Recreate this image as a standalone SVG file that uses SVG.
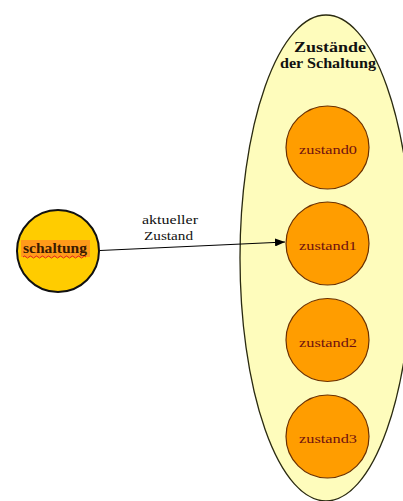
<svg xmlns="http://www.w3.org/2000/svg" width="403" height="501" viewBox="0 0 403 501">
  <style>
    text { font-family: "Liberation Serif", "DejaVu Serif", serif; }
    .state circle { fill: #ff9d00; stroke: #6b3000; stroke-width: 1.2; }
    .state text { font-size: 13px; fill: #6e1010; text-anchor: middle; }
    .title { font-size: 14px; font-weight: bold; fill: #111; text-anchor: middle; }
    .label { font-size: 13px; fill: #111; text-anchor: middle; }
    .node-label { font-size: 14px; font-weight: bold; fill: #3a1a00; text-anchor: middle; }
  </style>
  <defs>
    <marker id="arrow" markerWidth="10" markerHeight="8" refX="10" refY="4" orient="auto" markerUnits="userSpaceOnUse">
      <path d="M0,0 L10,4 L0,8 Z" fill="#000"/>
    </marker>
  </defs>
  <rect width="403" height="501" fill="#fff"/>

  <!-- container: states of the circuit -->
  <g id="zustaende">
    <ellipse cx="326" cy="258" rx="86" ry="243" fill="#fefcbc" stroke="#2a2a10" stroke-width="1.3"/>
    <text class="title" x="330" y="52" textLength="72" lengthAdjust="spacingAndGlyphs">Zustände</text>
    <text class="title" x="328" y="68" textLength="96" lengthAdjust="spacingAndGlyphs">der Schaltung</text>
  </g>

  <g id="zustand0" class="state">
    <circle cx="327.5" cy="147.5" r="41.5"/>
    <text x="328" y="154" textLength="58" lengthAdjust="spacingAndGlyphs">zustand0</text>
  </g>
  <g id="zustand1" class="state">
    <circle cx="327.5" cy="243.5" r="41.5"/>
    <text x="328" y="250" textLength="58" lengthAdjust="spacingAndGlyphs">zustand1</text>
  </g>
  <g id="zustand2" class="state">
    <circle cx="327.5" cy="340" r="41.5"/>
    <text x="328" y="346.5" textLength="58" lengthAdjust="spacingAndGlyphs">zustand2</text>
  </g>
  <g id="zustand3" class="state">
    <circle cx="327.5" cy="436.5" r="41.5"/>
    <text x="328" y="443" textLength="58" lengthAdjust="spacingAndGlyphs">zustand3</text>
  </g>

  <!-- circuit node -->
  <g id="schaltung">
    <circle cx="58" cy="251" r="41" fill="#ffcc00" stroke="#111" stroke-width="2"/>
    <rect x="21" y="240" width="69" height="17" fill="#ff9a1a"/>
    <path d="M23,257 q1.5,-2 3,0 t3,0 t3,0 t3,0 t3,0 t3,0 t3,0 t3,0 t3,0 t3,0 t3,0 t3,0 t3,0 t3,0 t3,0 t3,0 t3,0 t3,0 t3,0 t3,0 t3,0" fill="none" stroke="#e02020" stroke-width="1"/>
    <text class="node-label" x="55" y="253" textLength="64" lengthAdjust="spacingAndGlyphs">schaltung</text>
  </g>

  <!-- connectors -->
  <g id="connectors">
    <line x1="100" y1="250.5" x2="285" y2="242" stroke="#000" stroke-width="1.2" marker-end="url(#arrow)"/>
    <text class="label" x="170" y="224" textLength="56" lengthAdjust="spacingAndGlyphs">aktueller</text>
    <text class="label" x="168.5" y="240" textLength="49" lengthAdjust="spacingAndGlyphs">Zustand</text>
  </g>
</svg>
